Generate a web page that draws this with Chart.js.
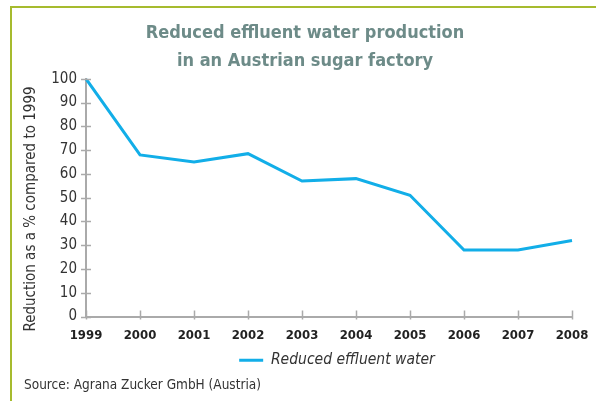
<!DOCTYPE html>
<html lang="en">
<head>
  <meta charset="UTF-8" />
  <title>Reduced effluent water production</title>
  <script src="https://cdn.jsdelivr.net/npm/chart.js"></script>
  <style>
    body {
      margin: 0;
      background: #fff;
      font-family: "DejaVu Sans Condensed", "Liberation Sans Narrow", sans-serif;
    }

    #frame {
      position: absolute;
      left: 10px;
      top: 6px;
      width: 586px;
      height: 395px;
      border-top: 2px solid #a6bb2e;
      border-left: 2px solid #a6bb2e;
      box-sizing: border-box;
    }

    #wrap {
      position: absolute;
      left: 0;
      top: 0;
      width: 596px;
      height: 401px;
    }

    #source {
      position: absolute;
      left: 24px;
      top: 376px;
      font-size: 13.5px;
      color: #333;
    }
  </style>
</head>

<body>
  <div id="frame"></div>
  <div id="wrap"><canvas id="chart"></canvas></div>
  <div id="source">Source: Agrana Zucker GmbH (Austria)</div>

  <script>
    const years = ["1999", "2000", "2001", "2002", "2003", "2004", "2005", "2006", "2007", "2008"];
    const effluentWater = [100, 68, 65, 68.5, 57, 58, 51, 28, 28, 32];
    const titleLines = ["Reduced effluent water production", "in an Austrian sugar factory"];
    const yTitle = "Reduction as a % compared to 1999";
    const seriesName = "Reduced effluent water";

    const narrow = "'DejaVu Sans Condensed', 'Liberation Sans Narrow', sans-serif";
    const axisGrey = "#aaaaaa";

    // tick marks that cross the axis lines, plus the rotated y title
    const axisDecor = {
      id: "axisDecor",
      afterLayout(chart) {
        // the original centres title and legend a bit right of the canvas middle
        if (chart.titleBlock) {
          chart.titleBlock.left += 7;
          chart.titleBlock.right += 7;
        }
        if (chart.legend) {
          chart.legend.left += 39;
          chart.legend.right += 39;
        }
      },
      afterDraw(chart) {
        const { ctx, scales } = chart;
        const x = scales.x, y = scales.y;
        ctx.save();
        ctx.strokeStyle = axisGrey;
        ctx.lineWidth = 1.5;
        y.ticks.forEach((t) => {
          const py = Math.round(y.getPixelForValue(t.value)) + 0.5;
          ctx.beginPath();
          ctx.moveTo(x.left - 5, py);
          ctx.lineTo(x.left + 5, py);
          ctx.stroke();
        });
        years.forEach((_, i) => {
          const px = Math.round(x.getPixelForValue(i)) + 0.5;
          ctx.beginPath();
          ctx.moveTo(px, y.bottom - 6);
          ctx.lineTo(px, y.bottom + 3);
          ctx.stroke();
        });
        ctx.translate(31, 209);
        ctx.rotate(-Math.PI / 2);
        ctx.fillStyle = "#333";
        ctx.font = "15px " + narrow;
        ctx.textAlign = "center";
        ctx.textBaseline = "middle";
        ctx.fillText(yTitle, 0, 0);
        ctx.restore();
      },
    };

    new Chart(document.getElementById("chart"), {
      type: "line",
      data: {
        labels: years,
        datasets: [
          {
            label: seriesName,
            data: effluentWater,
            borderColor: "#12aee8",
            backgroundColor: "#12aee8",
            borderWidth: 3,
            pointRadius: 0,
            pointStyle: "line",
            tension: 0,
            fill: false,
          },
        ],
      },
      options: {
        animation: false,
        responsive: true,
        maintainAspectRatio: false,
        layout: { padding: { left: 0, right: 0, top: 0, bottom: 23 } },
        plugins: {
          title: {
            display: true,
            text: titleLines,
            color: "#6d8b88",
            font: { family: narrow, size: 18, weight: "bold", lineHeight: 1.55 },
            padding: { top: 19, bottom: 4 },
          },
          legend: {
            position: "bottom",
            labels: {
              usePointStyle: true,
              pointStyleWidth: 24,
              color: "#333",
              font: { family: narrow, size: 15.5, style: "italic" },
              padding: 6,
            },
          },
          tooltip: { enabled: false },
        },
        scales: {
          x: {
            grid: { display: false, drawTicks: false },
            border: { color: axisGrey, width: 2 },
            ticks: {
              color: "#222",
              padding: 11,
              maxRotation: 0,
              autoSkip: false,
              font: { family: narrow, size: 13, weight: "bold" },
            },
            afterFit(scale) {
              scale.height = 30;
              scale.paddingRight = 24;
            },
          },
          y: {
            min: 0,
            max: 100,
            grid: { display: false, drawTicks: false },
            border: { color: axisGrey, width: 2 },
            ticks: {
              stepSize: 10,
              autoSkip: false,
              color: "#333",
              padding: 9,
              font: { family: narrow, size: 15 },
            },
            afterFit(scale) {
              scale.width = 86;
            },
          },
        },
      },
      plugins: [axisDecor],
    });
  </script>
</body>
</html>
